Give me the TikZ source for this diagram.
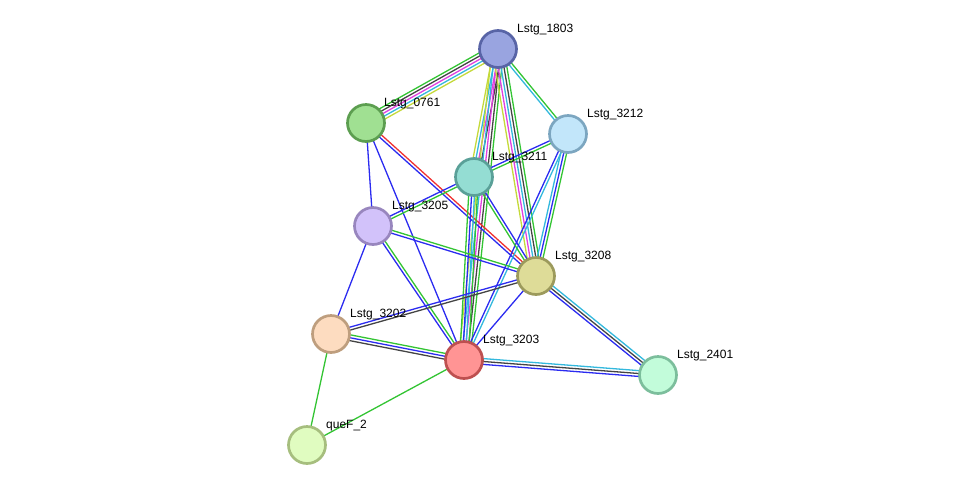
\documentclass[tikz,border=0pt]{standalone}
\usepackage{fontspec}
\setmainfont{Liberation Sans}
\usetikzlibrary{calc,backgrounds}
\definecolor{eg}{HTML}{33C433}
\definecolor{ek}{HTML}{444444}
\definecolor{em}{HTML}{E040E0}
\definecolor{ec}{HTML}{33B8DD}
\definecolor{ey}{HTML}{C4D93A}
\definecolor{eb}{HTML}{2B2BF0}
\definecolor{er}{HTML}{F03030}
\tikzset{
  prot/.style={circle, minimum size=37pt, inner sep=0pt, line width=2.7pt},
  lab/.style={anchor=west, font=\fontsize{12}{14}\selectfont, inner sep=0pt},
  eline/.style={line width=1.3pt}
}
\newcommand\pedge[3]{%
  \xdef\ncount{0}%
  \foreach \c in {#3}{\xdef\ncount{\the\numexpr\ncount+1\relax}}%
  \foreach \c [count=\i] in {#3}{%
    \pgfmathsetmacro\off{(\i-(\ncount+1)/2)*2.9}%
    \draw[eline, \c] ($(#1)!\off pt!90:(#2)$) -- ($(#2)!\off pt!-90:(#1)$);
  }}
\begin{document}
\begin{tikzpicture}[x=1pt,y=-1pt]
\useasboundingbox (0,0) rectangle (976,491);
\node[prot, fill={rgb,255:red,153;green,164;blue,224}, draw={rgb,255:red,88;green,100;blue,166}] (n1803) at (498,49) {};
\node[prot, fill={rgb,255:red,160;green,224;blue,146}, draw={rgb,255:red,92;green,158;blue,80}] (n0761) at (366,123) {};
\node[prot, fill={rgb,255:red,194;green,230;blue,250}, draw={rgb,255:red,124;green,166;blue,192}] (n3212) at (568,134) {};
\node[prot, fill={rgb,255:red,148;green,221;blue,211}, draw={rgb,255:red,90;green,160;blue,152}] (n3211) at (474,177) {};
\node[prot, fill={rgb,255:red,210;green,194;blue,250}, draw={rgb,255:red,152;green,134;blue,190}] (n3205) at (373,226) {};
\node[prot, fill={rgb,255:red,222;green,220;blue,152}, draw={rgb,255:red,156;green,154;blue,92}] (n3208) at (536,276) {};
\node[prot, fill={rgb,255:red,253;green,220;blue,192}, draw={rgb,255:red,190;green,158;blue,126}] (n3202) at (331,334) {};
\node[prot, fill={rgb,255:red,255;green,148;blue,148}, draw={rgb,255:red,190;green,80;blue,80}] (n3203) at (464,360) {};
\node[prot, fill={rgb,255:red,194;green,252;blue,218}, draw={rgb,255:red,124;green,190;blue,156}] (n2401) at (658,375) {};
\node[prot, fill={rgb,255:red,224;green,252;blue,192}, draw={rgb,255:red,166;green,190;blue,126}] (nqueF) at (307,445) {};
\node[lab] (l1803) at (517,30) {Lstg\_1803};
\node[lab] (l0761) at (384,104) {Lstg\_0761};
\node[lab] (l3212) at (587,115) {Lstg\_3212};
\node[lab] (l3211) at (492,158) {Lstg\_3211};
\node[lab] (l3205) at (392,207) {Lstg\_3205};
\node[lab] (l3208) at (555,257) {Lstg\_3208};
\node[lab] (l3202) at (350,315) {Lstg\_3202};
\node[lab] (l3203) at (483,341) {Lstg\_3203};
\node[lab] (l2401) at (677,356) {Lstg\_2401};
\node[lab] (lqueF) at (326,426) {queF\_2};
\begin{scope}[on background layer]
\pedge{n1803}{n0761}{eg,ek,em,ec,ey}
\pedge{n1803}{n3211}{ey,ec,em,ek}
\pedge{n1803}{n3203}{ey,ec,em,ek,eg}
\pedge{n1803}{n3208}{ey,em,ec,ek,eg}
\pedge{n1803}{n3212}{ec,eg}
\pedge{n0761}{n3205}{eb}
\pedge{n0761}{n3203}{eb}
\pedge{n0761}{n3208}{eb,er}
\pedge{n3212}{n3211}{eb,eg}
\pedge{n3212}{n3208}{ec,eb,eg}
\pedge{n3212}{n3203}{eb,ec}
\pedge{n3211}{n3205}{eb,eg}
\pedge{n3211}{n3203}{eg,eb,ec,eg}
\pedge{n3211}{n3208}{eg,eb}
\pedge{n3205}{n3208}{eb,eg}
\pedge{n3205}{n3203}{eb,eg}
\pedge{n3205}{n3202}{eb}
\pedge{n3202}{n3208}{ek,eb}
\pedge{n3202}{n3203}{ek,eb,eg}
\pedge{n3202}{nqueF}{eg}
\pedge{n3203}{nqueF}{eg}
\pedge{n3203}{n3208}{eb}
\pedge{n3203}{n2401}{eb,ek,ec}
\pedge{n3208}{n2401}{eb,ek,ec}
\end{scope}
\end{tikzpicture}
\end{document}
